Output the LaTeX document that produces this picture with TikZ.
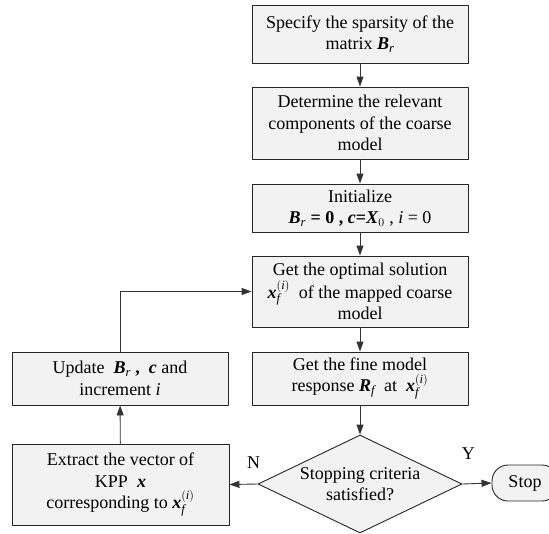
\documentclass[tikz,border=0pt]{standalone}
\usepackage{fontspec}
\setmainfont{Liberation Serif}
\usetikzlibrary{shapes.geometric,arrows.meta,positioning}
\newcommand{\vbi}[1]{\textbf{\textit{#1}}}
\newcommand{\Br}{$\mbox{\vbi{B}}_{\mathit{r}}$}
\newcommand{\xfi}{$\mbox{\vbi{x}}_{\mathit{f}}^{(\mathit{i})}$}
\tikzset{
 box/.style={draw=black!85, fill=gray!10, line width=0.9pt, minimum width=216pt, align=center, inner sep=2pt},
 decide/.style={diamond, draw=black!85, fill=gray!10, line width=0.9pt, aspect=2.08, minimum width=204pt, minimum height=98pt, inner sep=0pt, align=center},
 term/.style={draw=black!85, fill=gray!10, line width=0.9pt, rounded corners=16pt, minimum width=66pt, minimum height=36pt},
 flow/.style={->, line width=0.9pt, draw=black!80}
}
\begin{document}
\begin{tikzpicture}[x=1pt, y=-1pt, font=\fontsize{18}{21.5}\selectfont, line join=round, >={Triangle[length=10pt,width=7pt]}]
 \useasboundingbox (0,0) rectangle (549,533);
 % main column
 \node[box, minimum height=58pt] (spec) at (360,34) {Specify the sparsity of the\\ matrix \Br};
 \node[box, minimum height=72pt] (comp) at (360,123) {Determine the relevant\\ components of the coarse\\ model};
 \node[box, minimum height=48pt] (init) at (360,208) {Initialize\\ \Br\textbf{ = 0 , }\vbi{c}\textbf{=}$\mbox{\vbi{X}}_0$ , \textit{i} = 0};
 \node[box, minimum height=71pt] (opt) at (360,291.5) {Get the optimal solution\\ \xfi\ \ of the mapped coarse\\ model};
 \node[box, minimum height=53pt] (fine) at (360,378.5) {Get the fine model\\ response $\mbox{\vbi{R}}_{\mathit{f}}$ \ at \ \xfi};
 \node[decide] (stopq) at (360,484) {Stopping criteria\\ satisfied?};
 \node[term] (stop) at (525,483) {Stop};
 % loop back
 \node[box, minimum height=53pt] (upd) at (120,378.5) {Update \ \Br\textbf{ , } \vbi{c} and\\ increment \textit{i}};
 \node[box, minimum height=81pt, minimum width=217pt] (ext) at (120.5,484.5) {Extract the vector of\\ KPP \ \vbi{x}\\ corresponding to \xfi};
 \draw[flow] (spec) -- (comp);
 \draw[flow] (comp) -- (init);
 \draw[flow] (init) -- (opt);
 \draw[flow] (opt) -- (fine);
 \draw[flow] (fine) -- (stopq);
 \draw[flow] (stopq.east) -- node[pos=.2, above=21pt]{Y} (stop.west);
 \draw[flow] (stopq.west) -- node[pos=.14, above=12pt]{N} (ext.east);
 \draw[flow] (ext) -- (upd);
 \draw[flow] (upd.north) |- (opt.west);
\end{tikzpicture}
\end{document}
